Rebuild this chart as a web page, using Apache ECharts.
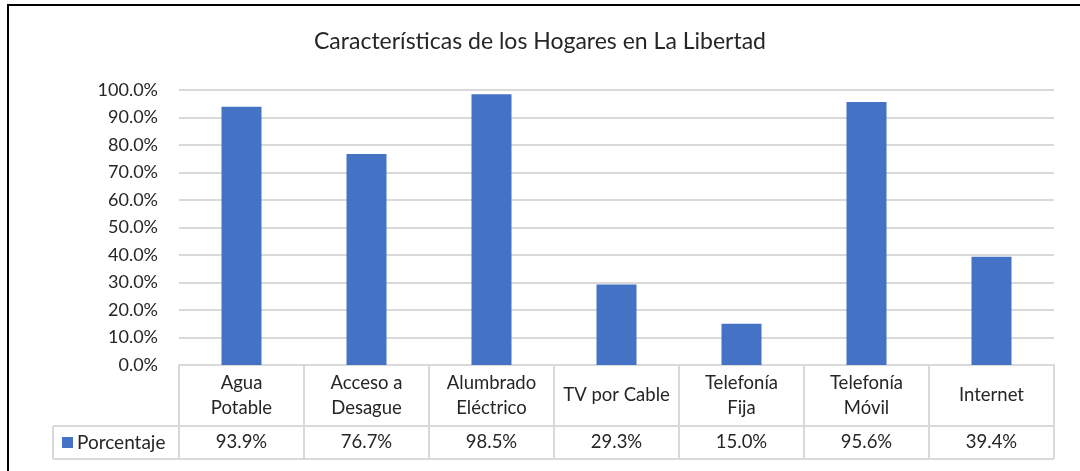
<!DOCTYPE html>
<html>
<head>
<meta charset="utf-8">
<title>Características de los Hogares en La Libertad</title>
<script src="https://cdn.jsdelivr.net/npm/echarts@6/dist/echarts.min.js"></script>
<style>
    html, body { margin: 0; padding: 0; background: #fff; }
    #chart { width: 1080px; height: 471px; }
</style>
</head>
<body>
<div id="chart"></div>
<script>
// Data
const categories = ['Agua\nPotable', 'Acceso a\nDesague', 'Alumbrado\nEléctrico', 'TV por Cable',
    'Telefonía\nFija', 'Telefonía\nMóvil', 'Internet'];
const porcentaje = [93.9, 76.7, 98.5, 29.3, 15.0, 95.6, 39.4];
const seriesName = 'Porcentaje';
const titleText = 'Características de los Hogares en La Libertad';

const FONT = 'Lato';
const TEXT = '#262626';
const LINE = '#d9d9d9';

// Plot / table frame
const gridLeft = 179, gridRight = 26, gridTop = 90, gridBottom = 106;
const axisY = 471 - gridBottom;      // 0% line, top of the data table
const rowSplit = 426;                 // between category row and value row
const tableBottom = 459;
const legendLeft = 53;

const chart = echarts.init(document.getElementById('chart'));

chart.setOption({
    backgroundColor: '#fff',
    animation: false,
    title: {
        text: titleText,
        left: 'center',
        top: 30,
        padding: 0,
        textStyle: { fontFamily: FONT, fontSize: 23, fontWeight: 'normal', color: TEXT }
    },
    legend: {
        left: 62,
        top: rowSplit + 7,
        padding: 0,
        icon: 'rect',
        itemWidth: 11,
        itemHeight: 11,
        itemGap: 6,
        textStyle: { fontFamily: FONT, fontSize: 19, color: TEXT, padding: [0, 0, 0, -1] },
        data: [seriesName]
    },
    grid: { left: gridLeft, right: gridRight, top: gridTop, bottom: gridBottom },
    xAxis: [{
        type: 'category',
        data: categories,
        axisLine: { lineStyle: { color: LINE, width: 2 } },
        axisTick: { show: true, length: tableBottom - axisY, lineStyle: { color: LINE, width: 2 } },
        axisLabel: {
            interval: 0,
            margin: (rowSplit - axisY) / 2,
            verticalAlign: 'middle',
            lineHeight: 25,
            fontFamily: FONT, fontSize: 18.5, color: TEXT
        }
    }, {
        // second table row: the values
        type: 'category',
        position: 'bottom',
        data: categories,
        axisLine: { show: false },
        axisTick: { show: false },
        axisLabel: {
            interval: 0,
            margin: (rowSplit + tableBottom) / 2 - axisY,
            verticalAlign: 'middle',
            fontFamily: FONT, fontSize: 18.5, color: TEXT,
            formatter: function(v, i) { return porcentaje[i].toFixed(1) + '%'; }
        }
    }],
    yAxis: {
        type: 'value',
        min: 0,
        max: 100,
        interval: 10,
        axisLine: { show: false },
        axisTick: { show: false },
        splitLine: { lineStyle: { color: LINE, width: 2 } },
        axisLabel: {
            margin: 21,
            fontFamily: FONT, fontSize: 18, color: TEXT,
            formatter: function(v) { return v.toFixed(1) + '%'; }
        }
    },
    series: [{
        name: seriesName,
        type: 'bar',
        xAxisIndex: 0,
        barWidth: 40,
        itemStyle: { color: '#4472c4' },
        data: porcentaje
    }],
    graphic: [
        // outer chart border (cut off at right and bottom in the reference)
        { type: 'rect', silent: true, shape: { x: 8, y: 5, width: 1090, height: 480 },
          style: { fill: 'none', stroke: '#000', lineWidth: 2 } },
        // data table lines
        { type: 'line', silent: true, shape: { x1: legendLeft, y1: rowSplit, x2: 1080 - gridRight, y2: rowSplit },
          style: { stroke: LINE, lineWidth: 2 } },
        { type: 'line', silent: true, shape: { x1: legendLeft, y1: tableBottom, x2: 1080 - gridRight, y2: tableBottom },
          style: { stroke: LINE, lineWidth: 2 } },
        { type: 'line', silent: true, shape: { x1: legendLeft, y1: rowSplit, x2: legendLeft, y2: tableBottom },
          style: { stroke: LINE, lineWidth: 2 } }
    ]
});
</script>
</body>
</html>
